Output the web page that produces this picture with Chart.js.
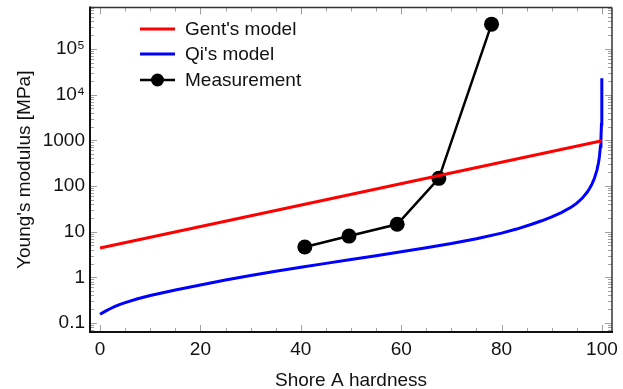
<!DOCTYPE html>
<html>
<head>
<meta charset="utf-8">
<script src="https://cdn.jsdelivr.net/npm/chart.js@4.4.1/dist/chart.umd.min.js"></script>
<style>
  html, body { margin: 0; padding: 0; background: #fff; }
  #wrap { width: 623px; height: 389px; }
</style>
</head>
<body>
<div id="wrap"><canvas id="myChart"></canvas></div>
<script>
// values
const gentX = [0, 100]
const gentY = [4.4, 980]
const qiX = [0, 1, 2, 3, 4, 5, 7.5, 10, 12.5, 15, 17.5, 20, 25, 30, 35, 40, 45, 50, 55, 60, 65, 70, 75, 80, 83, 86, 88, 90, 92, 94, 95, 96, 97, 97.5, 98, 98.5, 99, 99.3, 99.5, 99.7, 99.8, 99.9, 99.95, 99.99]
const qiY = [0.155, 0.18, 0.205, 0.23, 0.255, 0.28, 0.34, 0.4, 0.46, 0.53, 0.6, 0.68, 0.87, 1.1, 1.36, 1.66, 2.02, 2.45, 2.98, 3.65, 4.45, 5.5, 7.0, 9.3, 11.4, 14.5, 17.3, 21, 26.5, 35, 42, 53, 72, 87, 110, 148, 222, 318, 445, 745, 1120, 2240, 4500, 23000]
const measX = [40.8, 49.6, 59.2, 67.5, 78.0]
const measY = [4.6, 8.0, 14.5, 147, 350000]
const xTicks = [0, 20, 40, 60, 80, 100]
const yTicks = [0.1, 1, 10, 100, 1000, 10000, 100000]
const yTickLabels = ['0.1', '1', '10', '100', '1000', '10⁴', '10⁵']

const FONT = "'Liberation Sans', Arial, sans-serif"
const toPts = (xs, ys) => xs.map((v, i) => ({ x: v, y: ys[i] }))

// frame, inside ticks and the legend box in the top-left corner
const framePlugin = {
  id: 'frame',
  afterDatasetsDraw(chart) {
    const { ctx, chartArea: a, scales: { x, y } } = chart
    ctx.save()
    const seg = (x1, y1, x2, y2) => { ctx.beginPath(); ctx.moveTo(x1, y1); ctx.lineTo(x2, y2); ctx.stroke() }
    ctx.strokeStyle = '#a0a0a0'
    ctx.lineWidth = 1
    for (let v = 0; v <= 100; v += 5) {
      const px = Math.round(x.getPixelForValue(v)) + 0.5
      const len = v % 20 === 0 ? 7 : 4
      seg(px, a.bottom, px, a.bottom - len)
      seg(px, a.top, px, a.top + len)
    }
    for (let e = -2; e <= 5; e++) {
      for (let m = 1; m <= 9; m++) {
        const v = m * Math.pow(10, e)
        if (v < y.min || v > y.max) continue
        const py = Math.round(y.getPixelForValue(v)) + 0.5
        const len = m === 1 ? 7 : 4
        seg(a.left, py, a.left + len, py)
        seg(a.right, py, a.right - len, py)
      }
    }
    ctx.strokeStyle = '#333'
    ctx.lineWidth = 1.5
    seg(a.left, a.top, a.right, a.top)
    seg(a.right, a.top, a.right, a.bottom)
    ctx.strokeStyle = '#111'
    ctx.lineWidth = 2
    seg(a.left, a.top - 1, a.left, a.bottom + 1)
    seg(a.left - 1, a.bottom, a.right + 1, a.bottom)

    // legend
    ctx.font = '19px ' + FONT
    ctx.textBaseline = 'middle'
    const rows = [29, 54, 80]
    chart.data.datasets.forEach((ds, i) => {
      const ry = rows[i]
      ctx.strokeStyle = ds.borderColor
      ctx.lineWidth = ds.borderWidth
      seg(140, ry, 175, ry)
      if (ds.pointRadius > 0) {
        ctx.beginPath()
        ctx.arc(157.5, ry, 6.5, 0, Math.PI * 2)
        ctx.fillStyle = ds.pointBackgroundColor
        ctx.fill()
      }
      ctx.fillStyle = '#111'
      ctx.fillText(ds.label, 185, ry + 1)
    })
    ctx.restore()
  }
}

const ctx = document.getElementById('myChart')
new Chart(ctx, {
  type: 'scatter',
  data: {
    datasets: [{
      label: "Gent's model",
      data: toPts(gentX, gentY),
      showLine: true,
      borderColor: '#ff0000',
      borderWidth: 3,
      pointRadius: 0
    }, {
      label: "Qi's model",
      data: toPts(qiX, qiY),
      showLine: true,
      borderColor: '#0000ff',
      borderWidth: 3,
      pointRadius: 0
    }, {
      label: 'Measurement',
      data: toPts(measX, measY),
      showLine: true,
      borderColor: '#000000',
      borderWidth: 2.5,
      pointRadius: 7.5,
      pointBackgroundColor: '#000000',
      pointBorderWidth: 0
    }]
  },
  options: {
    responsive: true,
    maintainAspectRatio: false,
    animation: false,
    layout: { padding: { top: 7, right: 11, left: 0, bottom: 0 } },
    plugins: { legend: { display: false }, tooltip: { enabled: false } },
    scales: {
      x: {
        type: 'linear',
        min: -2,
        max: 102,
        grid: { display: false, drawTicks: false },
        border: { display: false },
        afterBuildTicks: s => { s.ticks = xTicks.map(v => ({ value: v })) },
        afterFit: s => { s.height = 57; s.paddingLeft = 0; s.paddingRight = 0 },
        ticks: { color: '#111', font: { family: FONT, size: 19 }, padding: 6, maxRotation: 0 },
        title: { display: true, text: 'Shore A hardness', color: '#111', font: { family: FONT, size: 19 }, padding: { top: 0, bottom: -3 } }
      },
      y: {
        type: 'logarithmic',
        min: 0.0635,
        max: 810000,
        grid: { display: false, drawTicks: false },
        border: { display: false },
        afterBuildTicks: s => { s.ticks = yTicks.map(v => ({ value: v })) },
        afterFit: s => { s.width = 90; s.paddingTop = 0; s.paddingBottom = 0 },
        ticks: {
          color: '#111',
          font: { family: FONT, size: 19 },
          padding: 5,
          callback: v => yTickLabels[yTicks.indexOf(v)] ?? ''
        },
        title: { display: true, text: "Young's modulus [MPa]", color: '#111', font: { family: FONT, size: 19 }, padding: { top: 13, bottom: 0 } }
      }
    }
  },
  plugins: [framePlugin]
})
</script>
</body>
</html>
